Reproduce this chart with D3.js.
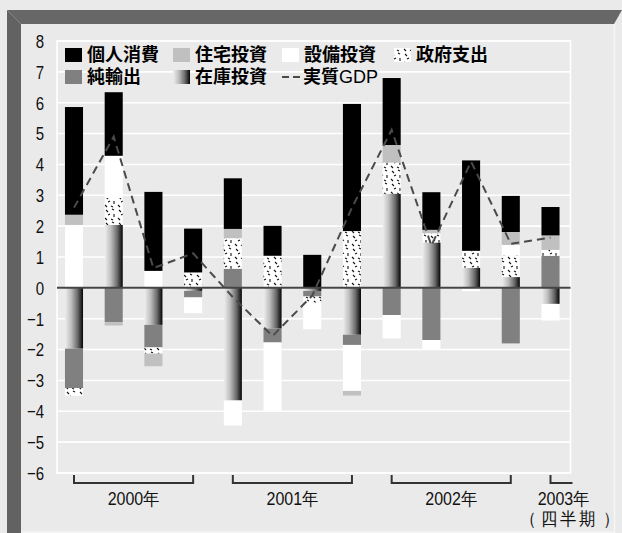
<!DOCTYPE html>
<html lang="ja">
<head>
<meta charset="utf-8">
<script src="https://cdn.jsdelivr.net/npm/d3@7"></script>
<style>
  html, body { margin: 0; padding: 0; background: #eaeaea; }
  svg { display: block; }
  text { text-spacing-trim: space-all; }
</style>
</head>
<body>
<svg id="chart" width="622" height="533"></svg>
<script>
// Quarterly contributions to real GDP growth (annualised, %), 2000 Q1 – 2003 Q1
const quarters = ["2000Q1","2000Q2","2000Q3","2000Q4","2001Q1","2001Q2","2001Q3","2001Q4",
                  "2002Q1","2002Q2","2002Q3","2002Q4","2003Q1"];
const consumption  = [3.49, 2.06, 2.56, 1.42, 1.64, 0.97, 1.07, 4.12, 2.17, 1.22, 2.93, 1.17, 0.92];
const housing      = [0.33, -0.11, -0.41, 0, 0.30, 0, 0, -0.15, 0.57, 0.11, 0, 0.42, 0.47];
const equipment    = [2.04, 1.37, 0.55, -0.51, -0.81, -2.24, -0.86, -1.49, -0.76, -0.29, -0.11, 0.34, -0.54];
const government   = [-0.25, 0.87, -0.20, 0.50, 0.99, 1.04, -0.20, 1.84, 1.01, 0.30, 0.55, 0.70, 0.19];
const netExports   = [-1.28, -1.11, -0.73, -0.21, 0.62, -0.45, -0.18, -0.33, -0.88, -1.69, 0, -1.80, 1.04];
const inventory    = [-1.97, 2.04, -1.20, -0.10, -3.65, -1.32, -0.10, -1.52, 3.05, 1.47, 0.65, 0.35, -0.52];
const realGDP      = [2.60, 4.90, 0.64, 1.12, -0.30, -1.56, -0.25, 2.60, 5.12, 1.37, 4.09, 1.43, 1.63];

const yTicks = [-6, -5, -4, -3, -2, -1, 0, 1, 2, 3, 4, 5, 6, 7, 8];
const yearLabels = ["2000年", "2001年", "2002年", "2003年"];
const yearFirst  = [0, 4, 8, 12];
const yearLast   = [3, 7, 11, 12];
const periodNote = ["（", "四半期", "）"];

// series names (stacking order from the zero line outward) and legend layout
const seriesNames = ["在庫投資", "純輸出", "政府支出", "設備投資", "住宅投資", "個人消費"];
const seriesValues = [inventory, netExports, government, equipment, housing, consumption];
const legendRow1 = ["個人消費", "住宅投資", "設備投資", "政府支出"];
const legendRow2 = ["純輸出", "在庫投資", "実質GDP"];

const svg = d3.select("#chart");
const defs = svg.append("defs");

// inventory: horizontal light-to-black shading
const grad = defs.append("linearGradient").attr("id", "invGrad")
  .attr("x1", 0).attr("x2", 1).attr("y1", 0).attr("y2", 0);
[[0, "#eeeeee"], [0.35, "#bdbdbd"], [0.7, "#6a6a6a"], [1, "#050505"]]
  .forEach(([o, c]) => grad.append("stop").attr("offset", o).attr("stop-color", c));

// government: white with short scattered strokes
const pat = defs.append("pattern").attr("id", "govPat")
  .attr("patternUnits", "userSpaceOnUse").attr("width", 13).attr("height", 13);
pat.append("rect").attr("width", 13).attr("height", 13).attr("fill", "#fff");
[[2,2,4,4],[8,1,10,2],[10,6,10,9],[4,7,6,6],[1,10,3,12],[7,11,9,12]]
  .forEach(s => pat.append("line")
    .attr("x1", s[0]).attr("y1", s[1]).attr("x2", s[2]).attr("y2", s[3])
    .attr("stroke", "#111").attr("stroke-width", 1.1));

const fills = {
  "個人消費": "#000000",
  "住宅投資": "#c0c0c0",
  "設備投資": "#ffffff",
  "政府支出": "url(#govPat)",
  "純輸出":   "#808080",
  "在庫投資": "url(#invGrad)"
};

// ---- frame ----
svg.append("polygon").attr("points", "7,10 622,10 614,24 21,24").attr("fill", "#676767");
svg.append("polygon").attr("points", "7,10 21,24 21,533 7,533").attr("fill", "#626262");
svg.append("line").attr("x1", 614.5).attr("x2", 614.5).attr("y1", 24).attr("y2", 533)
  .attr("stroke", "#f6f6f6").attr("stroke-width", 1.5);
svg.append("line").attr("x1", 21).attr("x2", 615).attr("y1", 532).attr("y2", 532)
  .attr("stroke", "#f6f6f6").attr("stroke-width", 1.5);

// ---- scales ----
const x = d3.scalePoint().domain(quarters).range([74, 550.5]);
const barW = x.step() * 0.455;
const y = d3.scaleLinear().domain([-6, 8]).range([473, 41]);
const plotL = 57, plotR = 570.5;

// plot area border and gridlines
svg.append("g").selectAll("line").data(yTicks).join("line")
  .attr("x1", plotL).attr("x2", plotR)
  .attr("y1", d => y(d)).attr("y2", d => y(d))
  .attr("stroke", "#ffffff").attr("stroke-width", 1.6);
svg.append("rect").attr("x", plotL).attr("y", y(8)).attr("width", plotR - plotL)
  .attr("height", y(-6) - y(8)).attr("fill", "none")
  .attr("stroke", "#ffffff").attr("stroke-width", 1.6);

// y axis labels (digits drawn slightly tall)
const yAxis = d3.axisLeft(y).tickValues(yTicks).tickSize(0).tickPadding(0);
const yG = svg.append("g").attr("transform", "translate(44,0)").call(yAxis);
yG.select(".domain").remove();
yG.selectAll(".tick").attr("transform", null);
yG.selectAll("text")
  .attr("x", 0).attr("dy", null).attr("y", 5.3)
  .attr("font-family", "'Liberation Sans', Arial, sans-serif")
  .attr("font-size", 15).attr("fill", "#111")
  .attr("text-anchor", "end")
  .attr("transform", d => `translate(0,${y(d)}) scale(1,1.28)`);

// ---- stacked bars ----
const rows = quarters.map((q, i) => {
  const r = { q };
  seriesNames.forEach((n, k) => r[n] = seriesValues[k][i]);
  return r;
});
const stack = d3.stack().keys(seriesNames)
  .order(d3.stackOrderNone).offset(d3.stackOffsetDiverging);
const layers = stack(rows);

svg.append("g").selectAll("g").data(layers).join("g")
  .attr("fill", d => fills[d.key])
  .selectAll("rect").data(d => d).join("rect")
  .attr("x", d => x(d.data.q) - barW / 2)
  .attr("width", barW)
  .attr("y", d => y(Math.max(d[0], d[1])))
  .attr("height", d => Math.abs(y(d[0]) - y(d[1])));

// zero line
svg.append("line").attr("x1", plotL).attr("x2", plotR)
  .attr("y1", y(0)).attr("y2", y(0))
  .attr("stroke", "#444").attr("stroke-width", 2);

// real GDP dashed line
const line = d3.line().x((d, i) => x(quarters[i])).y(d => y(d));
svg.append("path").datum(realGDP).attr("d", line)
  .attr("fill", "none").attr("stroke", "#4a4a4a")
  .attr("stroke-width", 2).attr("stroke-dasharray", "8,5");

// ---- year brackets ----
const brG = svg.append("g").attr("stroke", "#333").attr("stroke-width", 2).attr("fill", "none");
const tickTop = 475, tickBot = 484;
const axisFont = "'Liberation Sans', Arial, sans-serif";
const sy = 1.1;
yearLabels.forEach((lab, i) => {
  const x0 = x(quarters[yearFirst[i]]);
  const last = yearFirst[i] === yearLast[i];
  const x1 = last ? plotR + 2 : x(quarters[yearLast[i]]);
  const pts = last
    ? [[x0, tickTop], [x0, tickBot - 1], [x1, tickBot - 1]]
    : [[x0, tickTop], [x0, tickBot - 1], [x1, tickBot - 1], [x1, tickTop]];
  brG.append("path").attr("d", d3.line()(pts));

  const cx = last ? x0 + 13 : (x0 + x1) / 2;
  const t = svg.append("text")
    .attr("transform", `translate(0,505) scale(1,${sy})`)
    .attr("font-family", axisFont).attr("font-size", 16).attr("fill", "#111");
  t.append("tspan").attr("x", cx).attr("y", 0)
    .attr("text-anchor", "middle").text(lab);
  if (last) {
    // period note on a second line, brackets spaced apart from the word
    const ny = 20 / sy;
    t.append("tspan").attr("x", x0 - 30).attr("y", ny).text(periodNote[0]);
    t.append("tspan").attr("x", x0 - 9).attr("y", ny)
      .attr("letter-spacing", 2.8).text(periodNote[1]);
    t.append("tspan").attr("x", x0 + 53).attr("y", ny).text(periodNote[2]);
  }
});

// ---- legend ----
const legCols = [65, 173, 282, 394];
const legRows = [48, 70];
const legFont = "'Liberation Sans', 'Noto Sans CJK JP', sans-serif";
const legG = svg.append("g");
const legText = legG.append("text")
  .attr("font-family", legFont).attr("font-size", 18).attr("fill", "#000");
[legendRow1, legendRow2].forEach((row, r) => {
  row.forEach((name, c) => {
    const sx = legCols[c], sy0 = legRows[r];
    if (name === "実質GDP") {
      legG.append("line").attr("x1", sx).attr("x2", sx + 18)
        .attr("y1", sy0 + 7).attr("y2", sy0 + 7)
        .attr("stroke", "#4a4a4a").attr("stroke-width", 2)
        .attr("stroke-dasharray", "7,4");
      legText.append("tspan").attr("x", sx + 21).attr("y", sy0 + 13)
        .attr("font-weight", 700).text("実質");
      legText.append("tspan").attr("font-weight", 400).text("GDP");
    } else {
      legG.append("rect").attr("x", sx).attr("y", sy0)
        .attr("width", 17).attr("height", 14).attr("fill", fills[name]);
      legText.append("tspan").attr("x", sx + 22).attr("y", sy0 + 13)
        .attr("font-weight", 700).text(name);
    }
  });
});
</script>
</body>
</html>
